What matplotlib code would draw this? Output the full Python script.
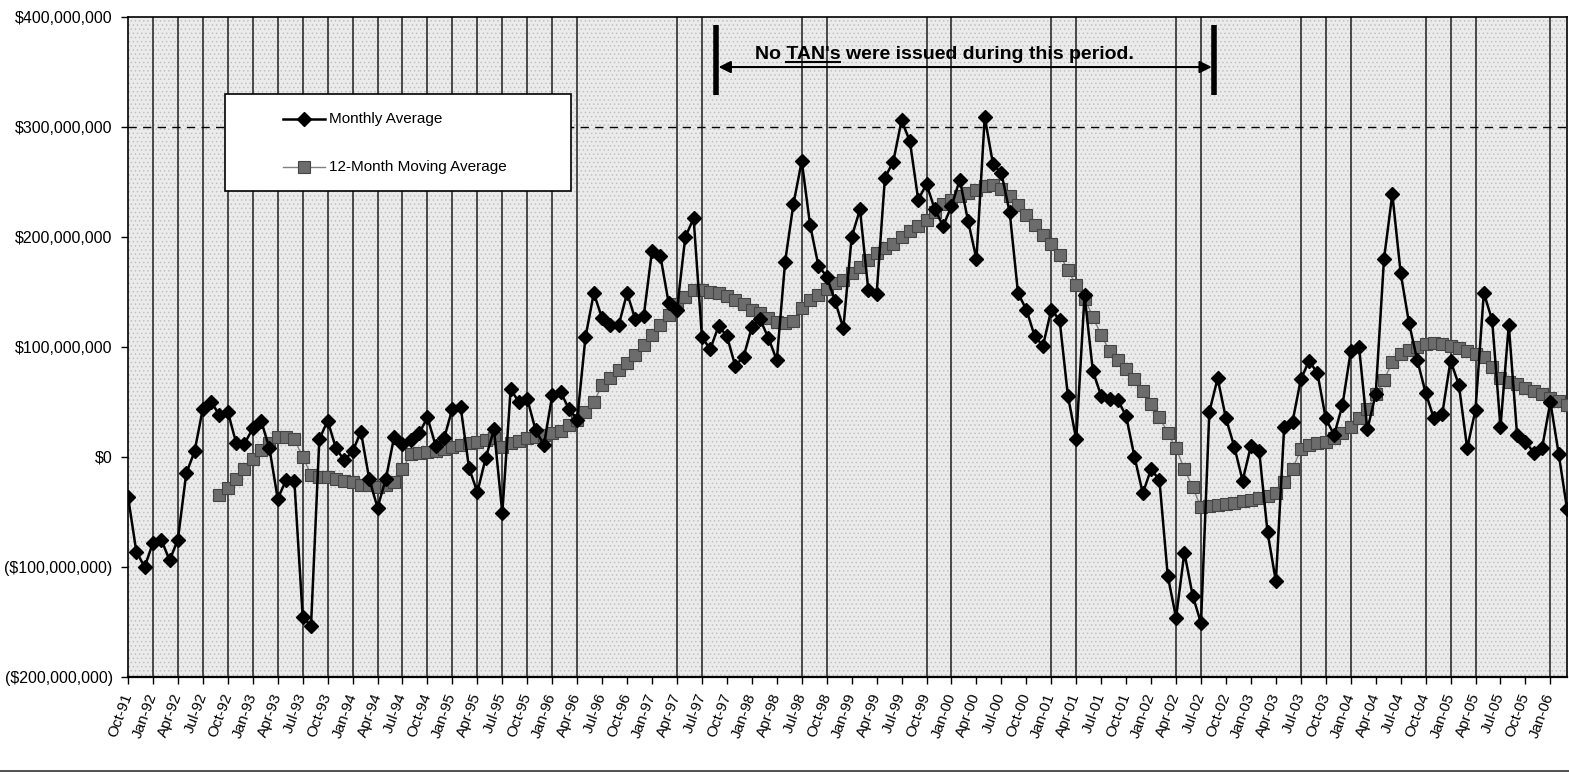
import numpy as np
import pandas as pd
import matplotlib
matplotlib.use('Agg')
import matplotlib.pyplot as plt
from matplotlib.ticker import FuncFormatter
from matplotlib.lines import Line2D
from matplotlib.patches import Rectangle

plt.rcParams['font.family'] = ['Liberation Sans', 'DejaVu Sans']
plt.rcParams['hatch.linewidth'] = 0.6

# monthly average balance in $ millions, one value per month from Oct-91
monthly_avg = [
    -36, -86, -100, -78, -75, -94, -75, -15, 5, 44, 50, 38,
    41, 13, 12, 26, 33, 8, -38, -21, -22, -145, -154, 16,
    33, 8, -3, 5, 23, -20, -46, -20, 18.5, 12, 15, 21.5,
    36, 10, 17, 44, 45, -10, -32, -1, 25, -51, 61.5, 50,
    53, 24.5, 11, 56, 59, 44, 34, 109, 149, 126, 120, 120,
    149, 125, 128, 187.5, 183, 140, 134, 200, 217, 109, 98, 119,
    110, 83, 91, 118, 125, 108, 88, 177.5, 230, 269, 211, 174,
    164, 142, 117, 200, 225, 152, 148, 254, 268.5, 306, 287, 234,
    248, 225, 210, 228, 252, 214.5, 180, 309, 266, 258, 222.5, 149,
    134, 110, 101, 134, 124.5, 55.5, 16, 147, 78, 55.5, 52.4, 52,
    37, 0.3, -33, -11, -21, -108, -146, -87, -126, -151, 41, 71.5,
    35, 9.4, -21.5, 10, 5, -68.5, -113, 27.5, 32, 70.6, 87.6, 76,
    35, 20, 47, 96, 100, 25, 57, 180, 239, 167.5, 122, 88,
    58.5, 35, 39, 87.6, 65.5, 8, 43, 149, 124.5, 27, 120, 20,
    14, 4, 8, 50, 3, -47,
]

# 12-month moving average in $ millions, first value is Sep-92
ma_start = 11
moving_avg = [
    -34.5, -28.5, -20, -11, -2, 6.4, 12.4, 18, 18.5, 16, 0, -16,
    -18, -18.5, -20, -21.5, -23, -25.5, -25.5, -27, -25.5, -23, -11, 2.7,
    3.3, 4.2, 5.5, 7, 8.8, 11, 12.4, 14, 15.5, 17, 9.4, 12.4,
    14.8, 17, 18.5, 20, 21.5, 24, 29, 34, 41, 50, 65.5, 71.5,
    79, 85, 93, 102, 111, 120, 129, 139, 145, 152, 152, 150,
    149, 146, 143, 139, 134, 131, 126, 123, 122, 124, 135, 143,
    147, 153, 158, 161, 167, 173, 179, 185, 190, 194, 200, 205,
    210, 215, 223, 230, 234, 237, 240, 243, 246, 247, 244, 237,
    229, 220, 211, 202, 194, 184, 170, 156, 144, 127.5, 111, 96.6,
    88, 80, 70.6, 60, 48, 36.7, 22, 8, -11, -27.6, -45.8, -45,
    -44, -42.7, -41.5, -40, -39, -37, -35.5, -32.5, -22.5, -11, 7, 11,
    12.4, 13.6, 17, 21.5, 27.5, 35, 44, 57, 70, 86.6, 94, 97,
    100, 102.7, 104, 102.7, 101, 99, 96.7, 94, 90.6, 82, 71.5, 68.5,
    66, 63, 60, 57, 54, 51, 47,
]

# quarter ticks (counted from Oct-91) that carry a vertical divider
divider_quarters = list(range(1, 19)) + [22, 23, 27, 28, 32, 33, 37, 38,
                                          42, 43, 47, 48, 49, 52, 53, 54, 57]

months = pd.date_range('1991-10-01', periods=len(monthly_avg), freq='MS')
month_labels = [d.strftime('%b-%y') for d in months]
x = np.arange(len(monthly_avg))

W, H = 1569, 774


def fx(px):
    return px / W


def fy(py):
    return 1 - py / H


ma_style = dict(color='#808080', lw=1, marker='s', ms=9.3,
                mfc='#6c6c6c', mec='#454545', mew=0.8)
avg_style = dict(color='black', lw=1.8, marker='D', ms=7.3,
                 mfc='black', mec='black')

fig = plt.figure(figsize=(W / 100, H / 100), dpi=100)
ax = fig.add_axes([fx(128), fy(677), fx(1567) - fx(128), fy(17) - fy(677)])
ax.set_xlim(0, len(monthly_avg) - 1)
ax.set_ylim(-200, 400)
ax.set_facecolor('#ebebeb')
# stippled plot area
ax.add_patch(Rectangle((0, 0), 1, 1, transform=ax.transAxes, facecolor='none',
                       hatch='....', edgecolor='#c2c2c2', lw=0, zorder=0))

for q in divider_quarters:
    ax.axvline(3 * q, color='#1e1e1e', lw=1.1, zorder=1)

ax.axhline(300, color='black', lw=1.0, dashes=(6, 4.5), zorder=1)

ax.plot(x[ma_start:], moving_avg, zorder=3, **ma_style)
ax.plot(x, monthly_avg, zorder=4, **avg_style)

# axes, ticks
ax.set_xticks(x[::3])
ax.set_xticklabels(month_labels[::3], rotation=70, ha='right', va='center',
                   rotation_mode='anchor', fontsize=11)
ax.set_yticks(range(-200, 401, 100))


def money(v, pos):
    d = int(round(v * 1e6))
    s = '${:,}'.format(abs(d))
    return '(' + s + ')' if d < 0 else s


ax.yaxis.set_major_formatter(FuncFormatter(money))
ax.tick_params(axis='x', direction='out', length=5, width=1, pad=7)
ax.tick_params(axis='y', direction='out', length=5, width=1, pad=6, labelsize=11.5)
for s in ax.spines.values():
    s.set_color('black')
    s.set_linewidth(1.2)
ax.spines['bottom'].set_linewidth(1.6)

# no-TAN period marker
bar_left, bar_right = 70.7, 130.6
for b in (bar_left, bar_right):
    ax.plot([b, b], [329, 393], color='black', lw=4, solid_capstyle='butt', zorder=5)
ax.annotate('', xy=(bar_left + 0.3, 354.5), xytext=(bar_right - 0.3, 354.5),
            arrowprops=dict(arrowstyle='<|-|>', color='black', lw=1.5,
                            mutation_scale=18, shrinkA=0, shrinkB=0), zorder=5)
note = "No TAN's were issued during this period."
note_kw = dict(fontsize=14, fontweight='bold')
txt = ax.text(98.1, 362, note, ha='center', va='baseline', zorder=6, **note_kw)

# underline "TAN's"
fig.canvas.draw()
r = fig.canvas.get_renderer()
tb = txt.get_window_extent(r)


def text_width(s):
    t = ax.text(0, 0, s, **note_kw)
    w = t.get_window_extent(r).width
    t.remove()
    return w


u1 = tb.x0 + text_width("No TAN's")
u0 = u1 - text_width("TAN's")
base_y = ax.transData.transform((0, 362))[1]
inv = fig.transFigure.inverted()
(a0, ay), (a1, _) = inv.transform([(u0, base_y - 3), (u1, base_y - 3)])
fig.add_artist(Line2D([a0, a1], [ay, ay], transform=fig.transFigure,
                      color='black', lw=1.5, zorder=7))

# legend box
fig.add_artist(Rectangle((fx(225), fy(191)), fx(571) - fx(225), fy(94) - fy(191),
                         transform=fig.transFigure, facecolor='white',
                         edgecolor='black', lw=1.2, zorder=5))
fig.add_artist(Line2D([fx(283), fx(304), fx(325)], [fy(119)] * 3,
                      transform=fig.transFigure, markevery=[1], zorder=6,
                      **avg_style))
fig.text(fx(329), fy(119), 'Monthly Average', va='center', ha='left',
         fontsize=11, zorder=6)
fig.add_artist(Line2D([fx(283), fx(304), fx(325)], [fy(167)] * 3,
                      transform=fig.transFigure, markevery=[1], zorder=6,
                      **ma_style))
fig.text(fx(329), fy(167), '12-Month Moving Average', va='center', ha='left',
         fontsize=11, zorder=6)

fig.add_artist(Line2D([0, 1], [fy(771)] * 2, transform=fig.transFigure,
                      color='#333333', lw=1.2))

fig.savefig('out.png', dpi=100)
